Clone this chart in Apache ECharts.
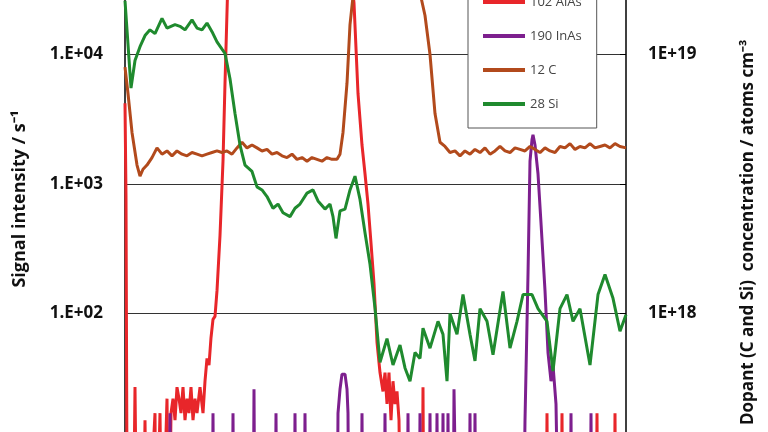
<!DOCTYPE html>
<html><head><meta charset="utf-8">
<script src="https://cdn.jsdelivr.net/npm/echarts@6/dist/echarts.min.js"></script>
<style>html,body{margin:0;padding:0;background:#fff;overflow:hidden;width:768px;height:432px}#c{position:absolute;left:0;top:-75px;width:768px;height:518px}</style>
</head><body><div id="c"></div>
<script>
const seriesNames = ['102 AlAs','190 InAs','12 C','28 Si'];
const leftTicks = {10:'1.E+01',100:'1.E+02',1000:'1.E+03',10000:'1.E+04',100000:'1.E+05'};
const rightTicks = {0:'1E+18',1:'1E+19'};
const alas = [[0,4200],[1,800],[2,5],[4,1],[8,1],[10,27],[12,1],[18,1],[20,15],[22,1],[30,17],[31,1],[35,17],[37,1],[42,22],[44,1],[46,17],[48,22],[50,15],[52,27],[54,22],[56,17],[58,27],[60,15],[62,22],[64,17],[66,27],[68,15],[70,22],[72,17],[75,27],[78,17],[80,30],[82,45],[84,40],[86,65],[88,90],[90,95],[92,150],[95,400],[98,1500],[100,6000],[103,40000],[107,60000],[220,60000],[226,40000],[229,25000],[233,5000],[237,2000],[240,1200],[243,700],[246,350],[249,170],[252,60],[255,35],[258,25],[260,35],[262,20],[264,35],[266,15],[268,30],[270,20],[272,25],[274,15],[276,1],[297,1],[298,27],[299,1],[421,1],[422,17],[423,1],[436,1],[437,17],[438,1],[471,1],[472,17],[473,1],[489,1],[490,17],[491,1],[501,1]];
const inas = [[0,1],[44,1],[45,17],[46,1],[87,1],[88,17],[89,1],[107,1],[108,17],[109,1],[128,1],[129,26],[130,1],[150,1],[151,17],[152,1],[169,1],[170,17],[171,1],[179,1],[180,17],[181,1],[212,1],[213,17],[215,26],[217,34],[220,34],[222,26],[223,17],[224,1],[236,1],[237,17],[238,1],[259,1],[260,17],[261,1],[282,1],[283,17],[284,1],[294,1],[295,17],[296,1],[304,1],[305,17],[306,1],[311,1],[312,17],[313,1],[317,1],[318,17],[319,1],[322,1],[323,17],[324,1],[328,1],[329,26],[331,26],[332,1],[344,1],[345,17],[346,1],[349,1],[350,17],[351,1],[398,1],[400,15],[403,200],[405,1500],[407,2200],[408,2400],[410,2000],[413,1200],[416,500],[420,150],[423,50],[426,30],[428,40],[431,20],[434,1],[445,1],[446,17],[447,1],[465,1],[466,17],[467,1],[501,1]];
const carbon = [[0,8000],[3,5000],[7,2500],[12,1400],[15,1150],[18,1300],[22,1400],[27,1600],[32,1900],[37,1700],[42,1800],[47,1650],[52,1800],[57,1700],[62,1650],[67,1750],[72,1700],[77,1650],[82,1700],[87,1750],[92,1800],[97,1750],[102,1800],[107,1700],[112,1900],[117,2100],[122,1900],[127,2000],[132,1900],[137,1800],[142,1850],[147,1700],[152,1750],[157,1650],[162,1600],[167,1700],[172,1550],[177,1600],[182,1500],[187,1600],[192,1550],[197,1500],[202,1600],[207,1550],[212,1550],[215,1700],[218,2500],[222,6000],[225,17000],[228,28000],[232,32000],[240,33000],[260,31000],[280,32000],[295,30000],[300,20000],[305,10000],[310,3500],[315,2100],[320,1950],[325,1750],[330,1800],[335,1650],[340,1800],[345,1700],[350,1850],[355,1750],[360,1900],[365,1700],[370,1800],[375,1950],[380,1800],[385,1750],[390,1900],[395,1850],[400,1800],[405,1950],[410,1850],[415,1750],[420,1900],[425,1800],[430,1750],[435,1950],[440,1900],[445,2050],[450,1850],[455,1950],[460,1900],[465,2050],[470,1900],[475,1950],[480,2000],[485,1900],[490,2050],[495,1950],[501,1900]];
const silicon = [[0,26000],[3,12000],[6,5500],[10,9000],[15,11500],[20,14000],[25,15500],[30,14500],[37,19000],[42,16000],[50,17000],[55,16500],[60,15500],[67,18500],[72,16000],[77,15500],[82,17500],[87,15000],[92,12500],[97,11000],[100,10200],[105,6500],[110,3500],[115,2000],[120,1400],[127,1250],[132,950],[137,900],[142,800],[148,650],[153,700],[158,600],[165,560],[170,650],[175,700],[182,850],[188,900],[193,740],[200,640],[205,700],[208,560],[211,380],[215,620],[220,640],[225,900],[230,1150],[235,760],[240,420],[245,240],[250,110],[255,42],[262,64],[268,40],[275,57],[280,38],[285,30],[290,50],[295,45],[298,77],[305,54],[313,87],[318,69],[322,30],[325,100],[332,69],[338,140],[345,69],[350,43],[355,109],[362,87],[368,48],[378,148],[385,54],[392,87],[398,140],[407,140],[413,109],[422,87],[428,36],[435,109],[442,140],[448,87],[455,109],[465,40],[473,140],[480,200],[488,131],[495,73],[501,98]];
const colors = ['#e8262a','#7d1f8e','#b24a1c','#1f8a2e'];
const chart = echarts.init(document.getElementById('c'));
const F = '"Open Sans", sans-serif';
const mk = (name, data, c) => ({name, type:'line', data, yAxisIndex:0, showSymbol:false, symbol:'none', lineStyle:{width:3, color:c}, itemStyle:{color:c}, clip:true, z:3});
const OY = 75;
chart.setOption({
  animation:false,
  grid:{left:125, right:142, top:0, bottom:0, containLabel:false, outerBoundsMode:'none'},
  legend:{orient:'vertical', left:468, top:OY-15, padding:[5,15,12,15], itemGap:10, itemWidth:42, itemHeight:4, icon:'rect',
    borderColor:'#555', borderWidth:1, backgroundColor:'#fff', data:seriesNames,
    textStyle:{fontFamily:F, fontSize:13, color:'#444', lineHeight:14, padding:[5,0,5,0]}},
  xAxis:{type:'value', min:0, max:501, show:false},
  yAxis:[
    {type:'log', min:10, max:100000, logBase:10,
     axisLine:{show:true, lineStyle:{color:'#000', width:1.5}},
     axisTick:{show:false},
     splitLine:{show:true, lineStyle:{color:'#333', width:1}},
     axisLabel:{formatter:v=>leftTicks[Math.round(v)]||'', fontFamily:F, fontWeight:'bold', fontSize:17, color:'#111', margin:22}},
    {type:'value', min:-0.5, max:1.5, interval:0.5, position:'right',
     axisLine:{show:true, lineStyle:{color:'#000', width:1.5}},
     axisTick:{show:true, inside:true, length:6, lineStyle:{color:'#000'}},
     splitLine:{show:false},
     axisLabel:{formatter:v=>rightTicks[v]||'', fontFamily:F, fontWeight:'bold', fontSize:17, color:'#111', margin:22}}
  ],
  graphic:[
    {type:'text', rotation:Math.PI/2, x:20, y:OY+199, style:{text:'Signal intensity / s\u207B\u00B9', font:'bold 18px "Open Sans", sans-serif', fill:'#111', textAlign:'center', textVerticalAlign:'middle'}},
    {type:'text', rotation:Math.PI/2, x:748, y:OY+425, style:{text:'Dopant (C and Si)  concentration / atoms cm\u207B\u00B3', font:'bold 17px "Open Sans", sans-serif', fill:'#111', textAlign:'left', textVerticalAlign:'middle'}}
  ],
  series:[mk(seriesNames[0],alas,colors[0]), mk(seriesNames[1],inas,colors[1]), mk(seriesNames[2],carbon,colors[2]), mk(seriesNames[3],silicon,colors[3])]
});
</script></body></html>
